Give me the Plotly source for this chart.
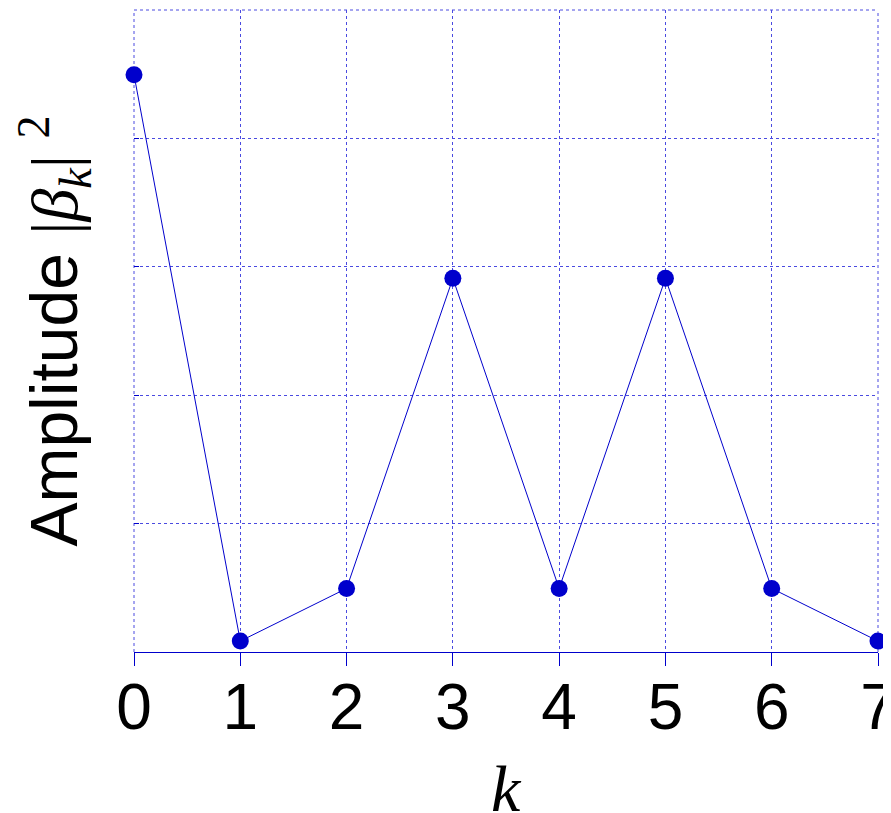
import plotly.graph_objects as go

k_values = [0, 1, 2, 3, 4, 5, 6, 7]
amplitude = [0.899, 0.017, 0.099, 0.582, 0.099, 0.582, 0.099, 0.017]
x_tick_labels = ["0", "1", "2", "3", "4", "5", "6", "7"]

blue = "#0000cc"
grid = "#4a4ae0"
serif = "Liberation Serif, Times New Roman, serif"

fig = go.Figure()
fig.add_trace(go.Scatter(
    x=k_values, y=amplitude, mode="lines+markers",
    line=dict(color=blue, width=1),
    marker=dict(color=blue, size=17),
    cliponaxis=False, showlegend=False,
))

# edge grid lines (plotly omits gridlines at the range boundaries)
for side in [dict(x0=0, x1=1, y0=1, y1=1), dict(x0=0, x1=0, y0=0, y1=1), dict(x0=1, x1=1, y0=0, y1=1)]:
    fig.add_shape(type="line", xref="paper", yref="paper", **side,
                  line=dict(color=grid, width=1, dash="3px,3px"), layer="below")

# x-axis title as an annotation so it can sit near the bottom edge
fig.add_annotation(
    text="<i>k</i>", xref="paper", yref="paper", x=0.5, y=0,
    xanchor="center", yanchor="top", yshift=-98, showarrow=False,
    font=dict(size=66, family=serif, color="black"),
)

# page body has an 8px margin, so the figure is 883x805
fig.update_layout(
    width=883, height=805,
    margin=dict(l=126, r=13, t=2, b=161),
    plot_bgcolor="white", paper_bgcolor="white",
    font=dict(family="Liberation Sans, Arial, sans-serif", color="black"),
)
fig.update_xaxes(
    range=[0, 7], tickvals=k_values, ticktext=x_tick_labels,
    tickfont=dict(size=64), ticks="outside", ticklen=13, tickcolor=blue,
    ticklabeloverflow="allow", automargin=False, ticklabelstandoff=-14,
    showgrid=True, gridcolor=grid, griddash="3px,3px", gridwidth=1,
    showline=True, linecolor=blue, linewidth=1, zeroline=False,
)
fig.update_yaxes(
    range=[0, 1], dtick=0.2, showticklabels=False, automargin=False,
    ticks="inside", ticklen=5, tickcolor=blue,
    showgrid=True, gridcolor=grid, griddash="3px,3px", gridwidth=1,
    showline=False, zeroline=False,
    title=dict(
        text=("Amplitude <span style='font-family:Liberation Serif'>|<i>β</i>"
              "<sub><i>k</i></sub>| <sup>2</sup></span>"),
        font=dict(size=66), standoff=40),
)

fig.write_html("out.html")
